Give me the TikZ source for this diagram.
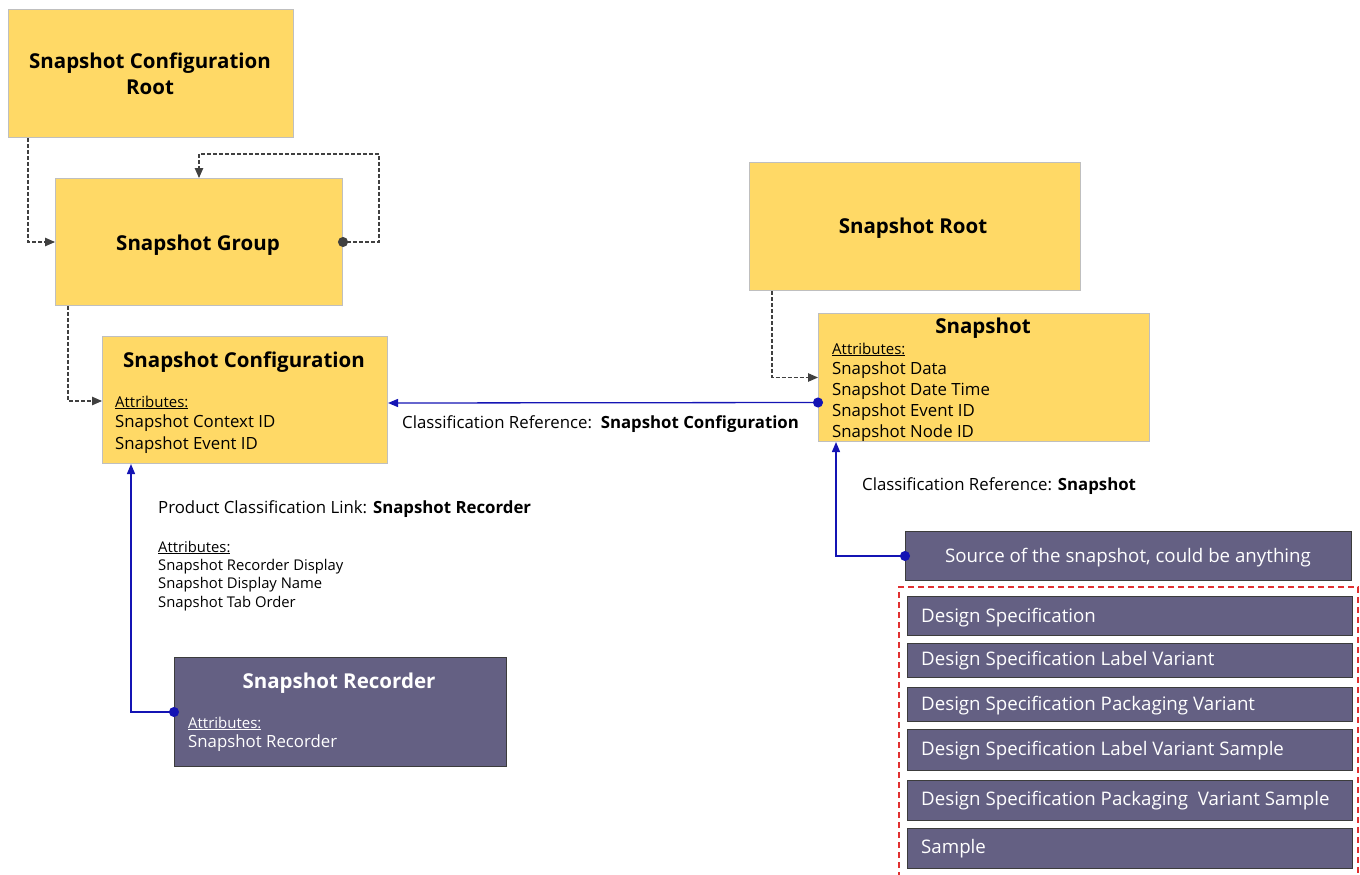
\documentclass[tikz,border=0pt]{standalone}
\usepackage{fontspec}
\setmainfont{Open Sans}
\usetikzlibrary{arrows.meta,calc}
\definecolor{ylw}{HTML}{FFD966}
\definecolor{ylwb}{HTML}{BFBFBF}
\definecolor{purp}{HTML}{646083}
\definecolor{purpb}{HTML}{3C3C3C}
\definecolor{lnk}{HTML}{1414B4}
\definecolor{dsh}{HTML}{404040}
\definecolor{redd}{HTML}{E03030}
\tikzset{
  ybox/.style={draw=ylwb, fill=ylw, line width=1pt, inner sep=0pt, anchor=north west},
  pbox/.style={draw=purpb, fill=purp, line width=1pt, inner sep=0pt, anchor=north west},
  ttl/.style={font=\fontsize{20.5}{24}\selectfont\bfseries, inner sep=0pt, anchor=base},
  attr/.style={font=\fontsize{16.8}{20}\selectfont, inner sep=0pt, anchor=base west},
  attrhead/.style={font=\fontsize{15}{18}\selectfont, inner sep=0pt, anchor=base west},
  smalltxt/.style={font=\fontsize{14.8}{18}\selectfont, inner sep=0pt, anchor=base west},
  itemtxt/.style={font=\fontsize{18.7}{22}\selectfont, text=white, inner sep=0pt, anchor=base west},
  dlink/.style={draw=dsh, dash pattern=on 4pt off 2pt, line width=1.1pt, -{Triangle[length=10pt,width=8.5pt]}},
  blink/.style={draw=lnk, line width=1.3pt, {Circle[length=10pt]}-{Triangle[length=10pt,width=8pt]}, shorten <=-5pt},
}
\begin{document}
\begin{tikzpicture}[x=1pt,y=-1pt]
\useasboundingbox (0,0) rectangle (1360,875);

% yellow boxes
\node[ybox, minimum width=285pt, minimum height=128pt] (cfgroot) at (8,9) {};
\node[ybox, minimum width=287pt, minimum height=127pt] (group) at (55,178) {};
\node[ybox, minimum width=285pt, minimum height=127pt] (cfg) at (102,336) {};
\node[ybox, minimum width=331pt, minimum height=128pt] (sroot) at (749,162) {};
\node[ybox, minimum width=331pt, minimum height=128pt] (snap) at (818,313) {};

% purple boxes
\node[pbox, minimum width=332pt, minimum height=109pt] (rec) at (174,657) {};
\node[pbox, minimum width=446pt, minimum height=49pt] (src) at (905,531) {};
\node[pbox, minimum width=445pt, minimum height=39pt] (it1) at (907,596) {};
\node[pbox, minimum width=445pt, minimum height=34pt] (it2) at (907,643) {};
\node[pbox, minimum width=445pt, minimum height=34pt] (it3) at (907,687) {};
\node[pbox, minimum width=445pt, minimum height=41pt] (it4) at (907,729) {};
\node[pbox, minimum width=445pt, minimum height=40pt] (it5) at (907,780) {};
\node[pbox, minimum width=445pt, minimum height=40pt] (it6) at (907,828) {};

% red dashed group
\draw[redd, dash pattern=on 6pt off 4pt, line width=1.2pt] (899,878) -- (899,587) -- (1358,587) -- (1358,878);

% titles
\node[ttl] (t1a) at (150,68) {Snapshot Configuration};
\node[ttl] (t1b) at (150,94) {Root};
\node[ttl] (t2) at (198,250) {Snapshot Group};
\node[ttl] (t3) at (244,367) {Snapshot Configuration};
\node[ttl] (t4) at (913,233) {Snapshot Root};
\node[ttl] (t5) at (983,333) {Snapshot};
\node[ttl, text=white] (t6) at (339,688) {Snapshot Recorder};

% attributes: configuration
\node[attrhead] (c1) at (115,407) {\underline{Attributes:}};
\node[attr] (c2) at (115,427) {Snapshot Context ID};
\node[attr] (c3) at (115,449) {Snapshot Event ID};

% attributes: snapshot
\node[attrhead] (s1) at (832,354) {\underline{Attributes:}};
\node[attr] (s2) at (832,374) {Snapshot Data};
\node[attr] (s3) at (832,395) {Snapshot Date Time};
\node[attr] (s4) at (832,416) {Snapshot Event ID};
\node[attr] (s5) at (832,437) {Snapshot Node ID};

% attributes: recorder
\node[attrhead, text=white] (r1) at (188,728) {\underline{Attributes:}};
\node[attr, text=white] (r2) at (188,747) {Snapshot Recorder};

% link labels
\node[attr] (l1) at (158,513) {Product Classification Link: \textbf{Snapshot Recorder}};
\node[smalltxt] (l2) at (158,552) {\underline{Attributes:}};
\node[smalltxt] (l3) at (158,570) {Snapshot Recorder Display};
\node[smalltxt] (l4) at (158,588) {Snapshot Display Name};
\node[smalltxt] (l5) at (158,607) {Snapshot Tab Order};
\node[attr] (l6) at (402,428) {Classification Reference:\ \ \textbf{Snapshot Configuration}};
\node[attr] (l7) at (862,490) {Classification Reference: \textbf{Snapshot}};

% list texts
\node[itemtxt, anchor=base] (srct) at (1128,562) {Source of the snapshot, could be anything};
\node[itemtxt] (i1) at (921,622) {Design Specification};
\node[itemtxt] (i2) at (921,665) {Design Specification Label Variant};
\node[itemtxt] (i3) at (921,710) {Design Specification Packaging Variant};
\node[itemtxt] (i4) at (921,755) {Design Specification Label Variant Sample};
\node[itemtxt] (i5) at (921,805) {Design Specification Packaging\ \ Variant Sample};
\node[itemtxt] (i6) at (921,853) {Sample};

% dashed connectors
\draw[dlink] ($(cfgroot.south west)+(20,0)$) |- (group.west);
\draw[dlink, {Circle[length=10pt]}-{Triangle[length=10pt,width=8.5pt]}, shorten <=-5pt] (group.east) -- ++(36,0) -- ++(0,-88) -| ($(group.north west)+(144,0)$);
\draw[dlink] ($(group.south west)+(13,0)$) |- ($(cfg.west)+(0,1)$);
\draw[dlink] ($(sroot.south west)+(23,0)$) |- (snap.west);

% blue connectors
\draw[blink] ($(snap.west)+(0,25)$) -- ($(cfg.east)+(0,3)$);
\draw[blink] (rec.west) -| ($(cfg.south west)+(29,0)$);
\draw[blink] (src.west) -| ($(snap.south west)+(18,0)$);
\end{tikzpicture}
\end{document}
